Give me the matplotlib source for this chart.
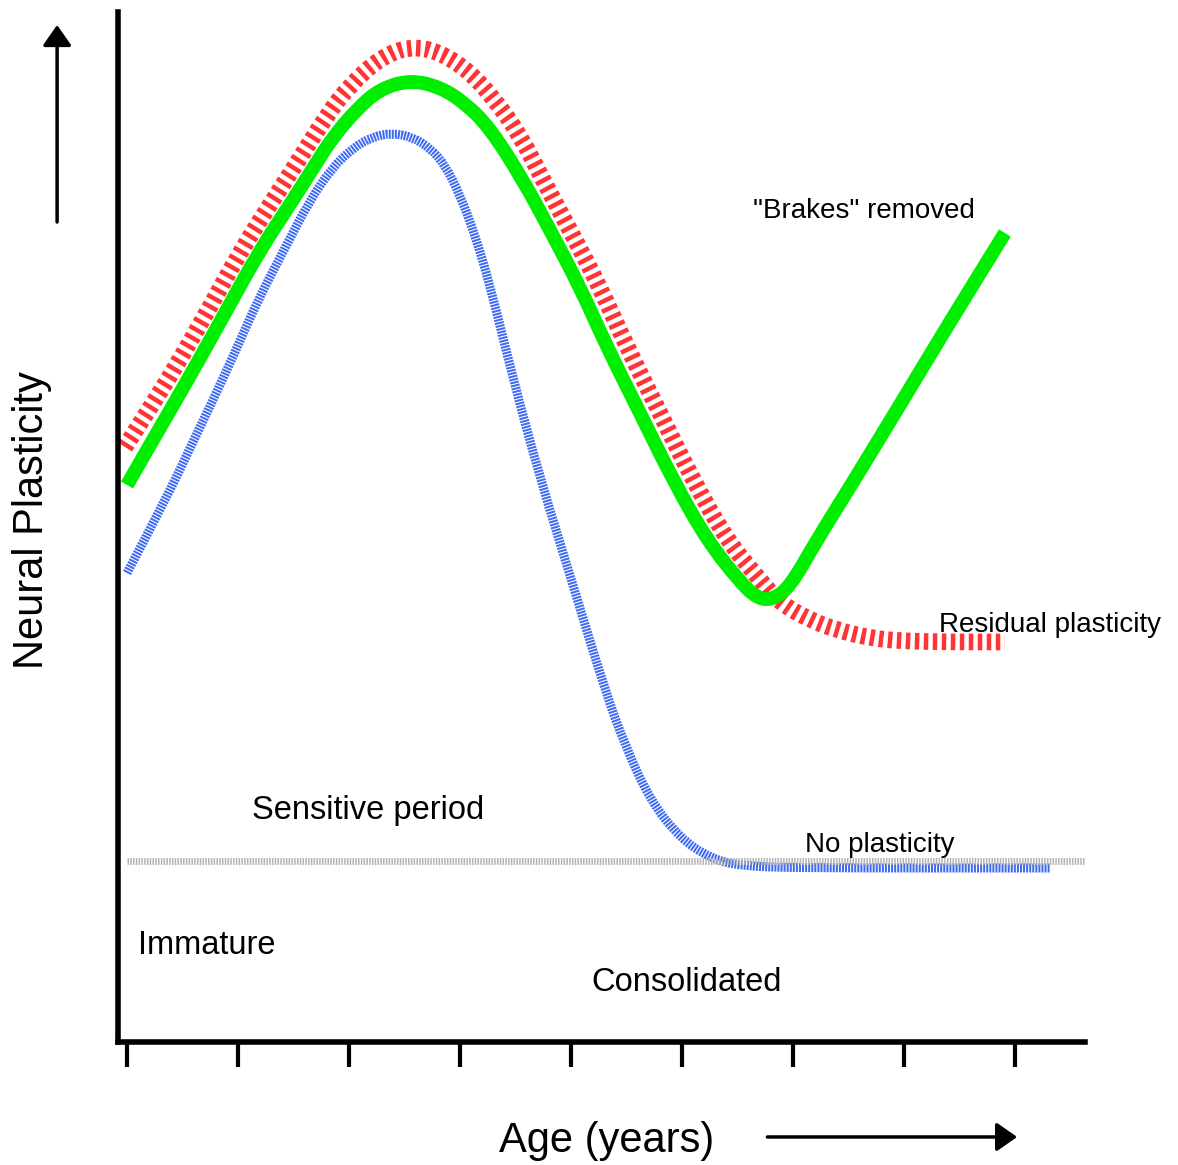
import numpy as np
import matplotlib.pyplot as plt
from matplotlib.path import Path
from matplotlib.patches import PathPatch

plt.rcParams['font.family'] = ['Liberation Sans', 'DejaVu Sans']

# age in tick units, plasticity in arbitrary units
red_age = [-0.018, 0.207, 0.432, 0.748, 1.018, 1.315, 1.559, 1.802, 2.009, 2.279,
           2.550, 2.820, 3.090, 3.315, 3.541, 3.748, 3.991, 4.261, 4.505, 4.802,
           5.099, 5.405, 5.703, 5.883, 6.153, 6.396, 6.694, 6.964, 7.414, 7.910]
red_val = [5.95, 6.34, 6.74, 7.35, 7.90, 8.42, 8.84, 9.27, 9.57, 9.84,
           9.96, 9.90, 9.70, 9.42, 9.07, 8.62, 8.12, 7.55, 6.95, 6.29,
           5.62, 5.02, 4.62, 4.39, 4.22, 4.12, 4.04, 4.01, 4.00, 4.00]

green_age = [0.000, 0.207, 0.432, 0.658, 0.928, 1.198, 1.495, 1.694, 1.856, 2.072,
             2.279, 2.550, 2.820, 3.045, 3.270, 3.568, 3.811, 4.081, 4.324, 4.622,
             4.919, 5.225, 5.523, 5.676, 5.811, 5.973, 6.216, 6.514, 6.964, 7.414,
             7.910]
green_val = [5.57, 5.97, 6.40, 6.84, 7.38, 7.92, 8.42, 8.77, 9.05, 9.33,
             9.53, 9.62, 9.55, 9.39, 9.14, 8.62, 8.12, 7.55, 6.95, 6.29,
             5.62, 5.02, 4.60, 4.44, 4.42, 4.55, 5.02, 5.55, 6.37, 7.20,
             8.09]

blue_age = [0.000, 0.360, 0.568, 0.775, 0.982, 1.180, 1.414, 1.649, 1.847, 2.036,
            2.207, 2.387, 2.568, 2.730, 2.865, 3.000, 3.135, 3.270, 3.477, 3.721,
            4.018, 4.306, 4.486, 4.712, 4.982, 5.252, 5.523, 6.063, 8.315]
blue_val = [4.69, 5.45, 5.94, 6.42, 6.92, 7.42, 7.92, 8.42, 8.74, 8.94,
            9.05, 9.09, 9.05, 8.94, 8.77, 8.47, 8.07, 7.57, 6.64, 5.64,
            4.57, 3.52, 2.97, 2.42, 2.04, 1.84, 1.76, 1.74, 1.74]

grey_age = [0, 8.63]
grey_val = [1.81, 1.81]

tick_ages = [0, 1, 2, 3, 4, 5, 6, 7, 8]


def smooth(xs, ys):
    # quadratic bezier through the midpoints, read points as controls
    pts = list(zip(xs, ys))
    verts = [pts[0]]
    codes = [Path.MOVETO]
    for i in range(1, len(pts) - 1):
        mid = ((pts[i][0] + pts[i + 1][0]) / 2, (pts[i][1] + pts[i + 1][1]) / 2)
        verts += [pts[i], mid]
        codes += [Path.CURVE3, Path.CURVE3]
    verts.append(pts[-1])
    codes.append(Path.LINETO)
    return Path(verts, codes)


fig = plt.figure(figsize=(11.78, 11.65), dpi=100)
ax = fig.add_axes([0.1002, 0.1056, 0.8208, 0.8841])
ax.set_xlim(-0.081, 8.631)
ax.set_ylim(0, 10.30)

ax.plot(grey_age, grey_val, color='#b4b4b4', lw=5, dashes=(0.22, 0.18),
        dash_capstyle='butt', clip_on=False)
ax.add_patch(PathPatch(smooth(blue_age, blue_val), fill=False, edgecolor='#3d6af2',
                       lw=6.5, linestyle=(0, (0.22, 0.12)), capstyle='butt',
                       joinstyle='round', clip_on=False))
ax.add_patch(PathPatch(smooth(red_age, red_val), fill=False, edgecolor='#ff3535',
                       lw=12, linestyle=(0, (0.27, 0.27)), capstyle='butt',
                       joinstyle='round', clip_on=False))
ax.add_patch(PathPatch(smooth(green_age, green_val), fill=False, edgecolor='#00ee00',
                       lw=10, capstyle='butt', joinstyle='round', clip_on=False))

for s in ['top', 'right']:
    ax.spines[s].set_visible(False)
ax.spines['left'].set_linewidth(4)
ax.spines['bottom'].set_linewidth(4)
ax.set_xticks(tick_ages)
ax.set_xticklabels([])
ax.set_yticks([])
ax.tick_params(axis='x', direction='out', length=18, width=3)

ax.text(-0.855, 5.22, 'Neural Plasticity', rotation=90, fontsize=30,
        ha='center', va='center')
ax.text(4.32, -0.99, 'Age (years)', fontsize=30, ha='center', va='center',
        clip_on=False)
ax.text(2.17, 2.31, 'Sensitive period', fontsize=23.5, ha='center', va='center')
ax.text(0.72, 0.96, 'Immature', fontsize=23.5, ha='center', va='center')
ax.text(5.045, 0.59, 'Consolidated', fontsize=23.5, ha='center', va='center')
ax.text(6.64, 8.31, '"Brakes" removed', fontsize=20, ha='center', va='center')
ax.text(7.32, 4.17, 'Residual plasticity', fontsize=20, ha='left', va='center')
ax.text(6.78, 1.97, 'No plasticity', fontsize=20, ha='center', va='center')

arrow = dict(arrowstyle='-|>,head_length=0.5,head_width=0.35', mutation_scale=25,
             lw=2.5, color='black', shrinkA=0, shrinkB=0)
ax.annotate('', xy=(-0.63, 10.17), xytext=(-0.63, 8.2), arrowprops=arrow,
            annotation_clip=False)
ax.annotate('', xy=(8.02, -0.95), xytext=(5.77, -0.95), arrowprops=arrow,
            annotation_clip=False)

fig.savefig('out.png', dpi=100)
